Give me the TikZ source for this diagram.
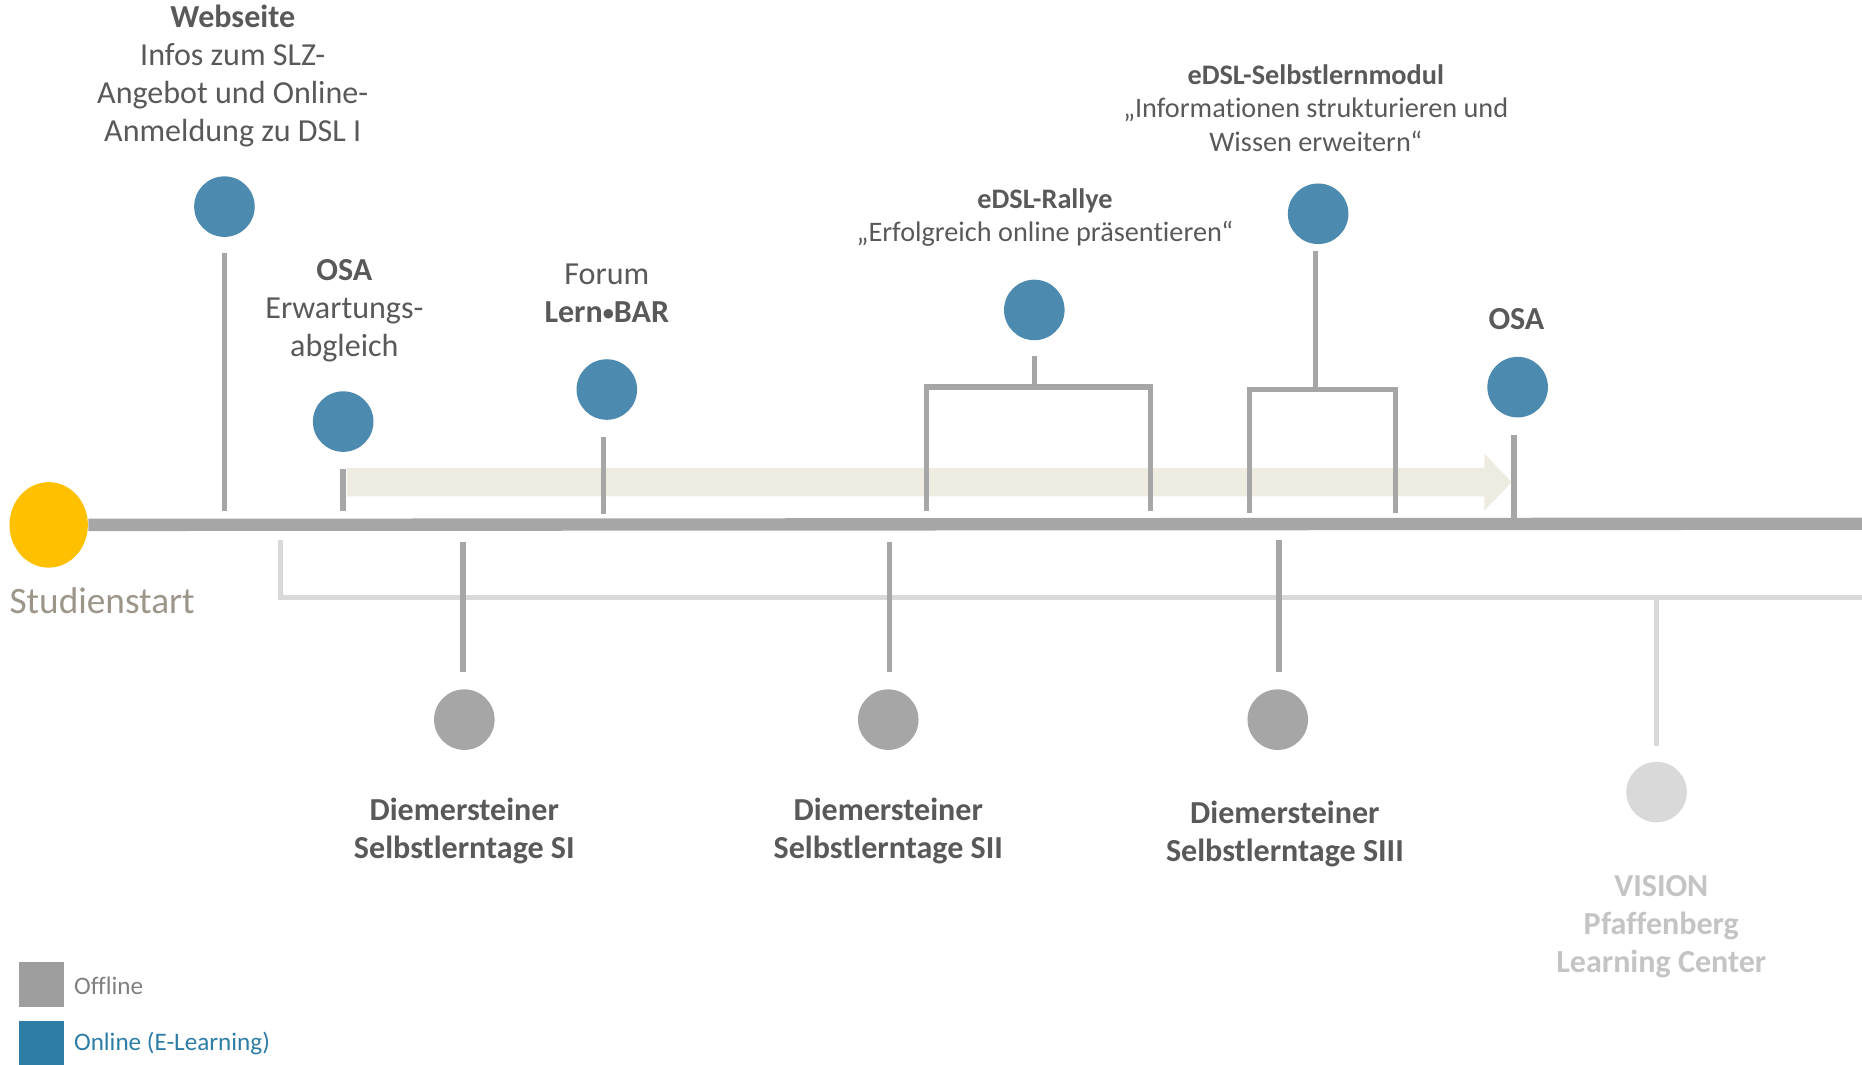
\documentclass[tikz,border=0pt]{standalone}
\usepackage{fontspec}
\usepackage{graphicx}
\setmainfont[Ligatures=NoCommon]{Carlito}
\usetikzlibrary{shapes.geometric}
\definecolor{onl}{HTML}{4D8AAF}
\definecolor{offl}{HTML}{A6A6A6}
\definecolor{vis}{HTML}{D9D9D9}
\definecolor{sun}{HTML}{FFC000}
\definecolor{cream}{HTML}{EEEBE0}
\definecolor{txt}{HTML}{595959}
\definecolor{tan}{HTML}{9C958A}
\definecolor{vistxt}{HTML}{C4C4C4}
\definecolor{legoff}{HTML}{9E9E9E}
\definecolor{legon}{HTML}{2E7DA6}
\definecolor{legtxt}{HTML}{7F7F7F}
\begin{document}
\begin{tikzpicture}[x=0.5pt,y=-0.5pt,
  dot/.style={circle,minimum size=25.5pt,inner sep=0pt,draw=none},
  ondot/.style={dot,fill=onl},
  offdot/.style={dot,fill=offl},
  visdot/.style={dot,fill=vis},
  stem/.style={draw=offl,line width=2.3pt},
  visline/.style={draw=vis,line width=2pt},
  lbl/.style={align=center,text=txt,inner sep=0pt,font=\fontsize{13.5}{16}\selectfont},
  blbl/.style={lbl,font=\bfseries\fontsize{13.5}{16}\selectfont},
  slbl/.style={align=center,text=txt,inner sep=0pt,font=\fontsize{11.9}{14}\selectfont},
  legsq/.style={minimum size=19pt,inner sep=0pt,draw=none}]
\useasboundingbox (0,0) rectangle (1568,896);

% cream arrow
\fill[cream] (292,394) -- (1250,394) -- (1250,382) -- (1273,406) -- (1250,430) -- (1250,418) -- (292,418) -- cycle;

% main line and start
\node[ellipse,minimum width=33pt,minimum height=36pt,inner sep=0pt,fill=sun] (start) at (41,442) {};
\coordinate (lineend) at (1568,441);
\draw[draw=offl,line width=5.2pt] (start.east) -- (lineend);
\node[text=tan,inner sep=0pt,font=\fontsize{15.7}{18}\selectfont] (starttxt) at (86,506) {Studienstart};

% online dots
\node[ondot] (web) at (189,174) {};
\node[ondot] (osa1) at (289,355) {};
\node[ondot] (forum) at (511,328) {};
\node[ondot] (rallye) at (871,261) {};
\node[ondot] (modul) at (1110,180) {};
\node[ondot] (osa2) at (1278,326) {};

% online stems
\coordinate (webA) at (189,213); \coordinate (webB) at (189,430);
\draw[stem] (webA) -- (webB);
\coordinate (osa1A) at (289,395); \coordinate (osa1B) at (289,430);
\draw[stem] (osa1A) -- (osa1B);
\coordinate (forumA) at (508,368); \coordinate (forumB) at (508,433);
\draw[stem] (forumA) -- (forumB);
\coordinate (ralA) at (871,300); \coordinate (ralB) at (871,326);
\coordinate (ralL) at (780,430); \coordinate (ralR) at (969,430);
\draw[stem] (ralA) -- (ralB);
\draw[stem] (ralL) |- (ralB) -| (ralR);
\coordinate (modA) at (1108,211); \coordinate (modB) at (1108,328);
\coordinate (modL) at (1052,432); \coordinate (modR) at (1175,432);
\draw[stem] (modA) -- (modB);
\draw[stem] (modL) |- (modB) -| (modR);
\coordinate (osa2A) at (1275,366); \coordinate (osa2B) at (1275,437);
\draw[stem] (osa2A) -- (osa2B);

% labels top
\node[lbl] (webtxt) at (196,64) {\textbf{Webseite}\\Infos zum SLZ-\\Angebot und Online-\\Anmeldung zu DSL I};
\node[lbl] (osa1txt) at (290,262) {\textbf{OSA}\\Erwartungs-\\abgleich};
\node[lbl] (forumtxt) at (511,247) {Forum\\\textbf{Lern\raisebox{0.06em}{\scalebox{0.7}{•}}BAR}};
\node[slbl] (raltxt) at (880,183) {\textbf{eDSL-Rallye}\\„Erfolgreich online präsentieren“};
\node[slbl] (modtxt) at (1108,91) {\textbf{eDSL-Selbstlernmodul}\\„Informationen strukturieren und\\Wissen erweitern“};
\node[blbl] (osa2txt) at (1277,269) {OSA};

% lower (vision) line
\coordinate (visA) at (236,455); \coordinate (visC) at (1568,503);
\draw[visline] (visA) |- (visC);
\node[visdot] (vision) at (1395,667) {};
\coordinate (visS) at (1395,505); \coordinate (visT) at (1395,628);
\draw[visline] (visS) -- (visT);

% offline dots
\node[offdot] (s1) at (391,606) {};
\node[offdot] (s2) at (748,606) {};
\node[offdot] (s3) at (1076,606) {};
\coordinate (s1A) at (390,456); \coordinate (s1B) at (390,566);
\draw[stem] (s1A) -- (s1B);
\coordinate (s2A) at (749,456); \coordinate (s2B) at (749,566);
\draw[stem] (s2A) -- (s2B);
\coordinate (s3A) at (1077,455); \coordinate (s3B) at (1077,566);
\draw[stem] (s3A) -- (s3B);

\node[blbl] (s1txt) at (391,700) {Diemersteiner\\Selbstlerntage SI};
\node[blbl] (s2txt) at (748,700) {Diemersteiner\\Selbstlerntage SII};
\node[blbl] (s3txt) at (1082,702) {Diemersteiner\\Selbstlerntage SIII};
\node[blbl,text=vistxt] (vistxt) at (1399,780) {VISION\\Pfaffenberg\\Learning Center};

% legend
\node[legsq,fill=legoff] (legoffsq) at (35,829) {};
\node[anchor=west,text=legtxt,inner sep=0pt,font=\fontsize{10.6}{12}\selectfont] (legofftxt) at (62,830) {Offline};
\node[legsq,fill=legon] (legonsq) at (35,879) {};
\node[anchor=west,text=legon,inner sep=0pt,font=\fontsize{10.6}{12}\selectfont] (legontxt) at (62,879) {Online (E-Learning)};
\end{tikzpicture}
\end{document}
